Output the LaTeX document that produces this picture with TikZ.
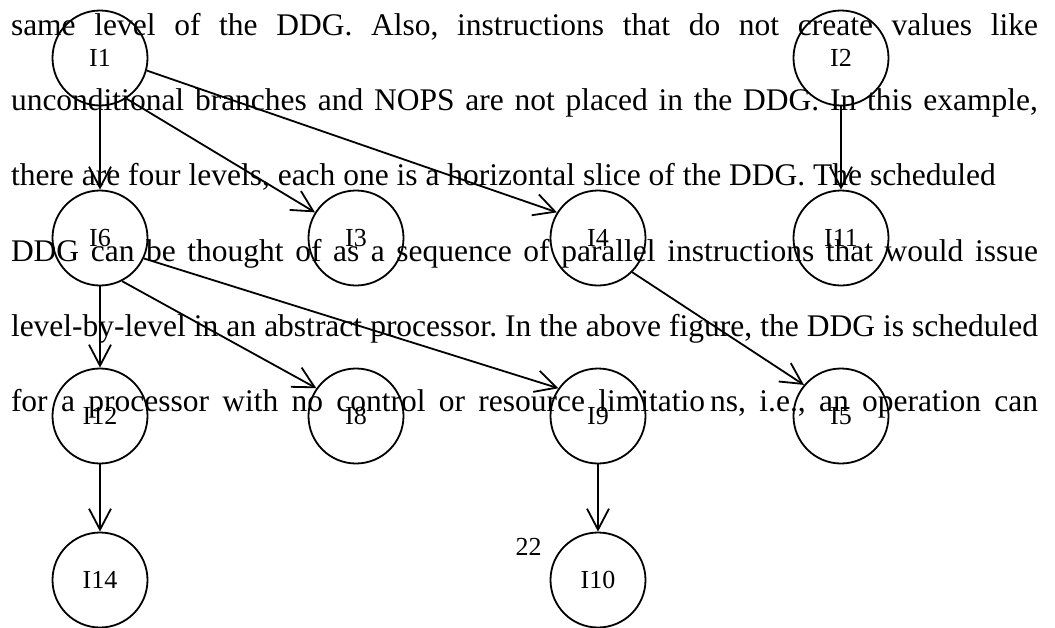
\documentclass[tikz,border=0pt]{standalone}
\usepackage{fontspec}
\setmainfont{Liberation Serif}
\usetikzlibrary{arrows.meta}
\frenchspacing
\begin{document}
\begin{tikzpicture}[x=1pt,y=-1pt,
  ddg/.style={circle, draw, line width=1.8pt, minimum size=95pt, inner sep=0pt, font=\fontsize{26}{26}\selectfont},
  dep/.style={line width=1.8pt, -{Straight Barb[length=21pt,width=22pt]}},
  txt/.style={anchor=base west, inner sep=0pt, outer sep=0pt, font=\fontsize{31.5}{31.5}\selectfont}]
\useasboundingbox (0,0) rectangle (1055,627);
% body text
\node[txt] (l1) at (11,35) {\makebox[1027pt][s]{same level of the DDG. Also, instructions that do not create values like}};
\node[txt] (l2) at (11,110.3) {\makebox[1027pt][s]{unconditional branches and NOPS are not placed in the DDG. In this example,}};
\node[txt] (l3) at (11,185.6) {there are four levels, each one is a horizontal slice of the DDG. The scheduled};
\node[txt] (l4) at (11,261) {\makebox[1027pt][s]{DDG can be thought of as a sequence of parallel instructions that would issue}};
\node[txt] (l5) at (11,336.3) {\makebox[1027pt][s]{level-by-level in an abstract processor. In the above figure, the DDG is scheduled}};
\node[txt] (l6) at (11,411.6) {\makebox[1027pt][s]{for a processor with no control or resource limitatio\kern5pt ns, i.e., an operation can}};
\node[anchor=base west, inner sep=0pt, font=\fontsize{26}{26}\selectfont] (pg) at (515.5,555) {22};
% graph nodes
\node[ddg] (I1) at (100,58) {I1};
\node[ddg] (I2) at (841,58) {I2};
\node[ddg] (I6) at (100,238) {I6};
\node[ddg] (I3) at (356,238) {I3};
\node[ddg] (I4) at (598,238) {I4};
\node[ddg] (I11) at (841,238) {I11};
\node[ddg] (I12) at (100,416) {I12};
\node[ddg] (I8) at (356,416) {I8};
\node[ddg] (I9) at (598,416) {I9};
\node[ddg] (I5) at (841,416) {I5};
\node[ddg] (I14) at (100,580) {I14};
\node[ddg] (I10) at (598,580) {I10};
% edges
\draw[dep] (I1) -- (I6);
\draw[dep] (I1.-57) -- (I3.148);
\draw[dep] (I1.-15) -- (I4.148);
\draw[dep] (I2) -- (I11);
\draw[dep] (I6) -- (I12);
\draw[dep] (I6.-63) -- (I8.145);
\draw[dep] (I6.-25) -- (I9.145);
\draw[dep] (I4.-45) -- (I5.140);
\draw[dep] (I12) -- (I14);
\draw[dep] (I9) -- (I10);
\end{tikzpicture}
\end{document}
